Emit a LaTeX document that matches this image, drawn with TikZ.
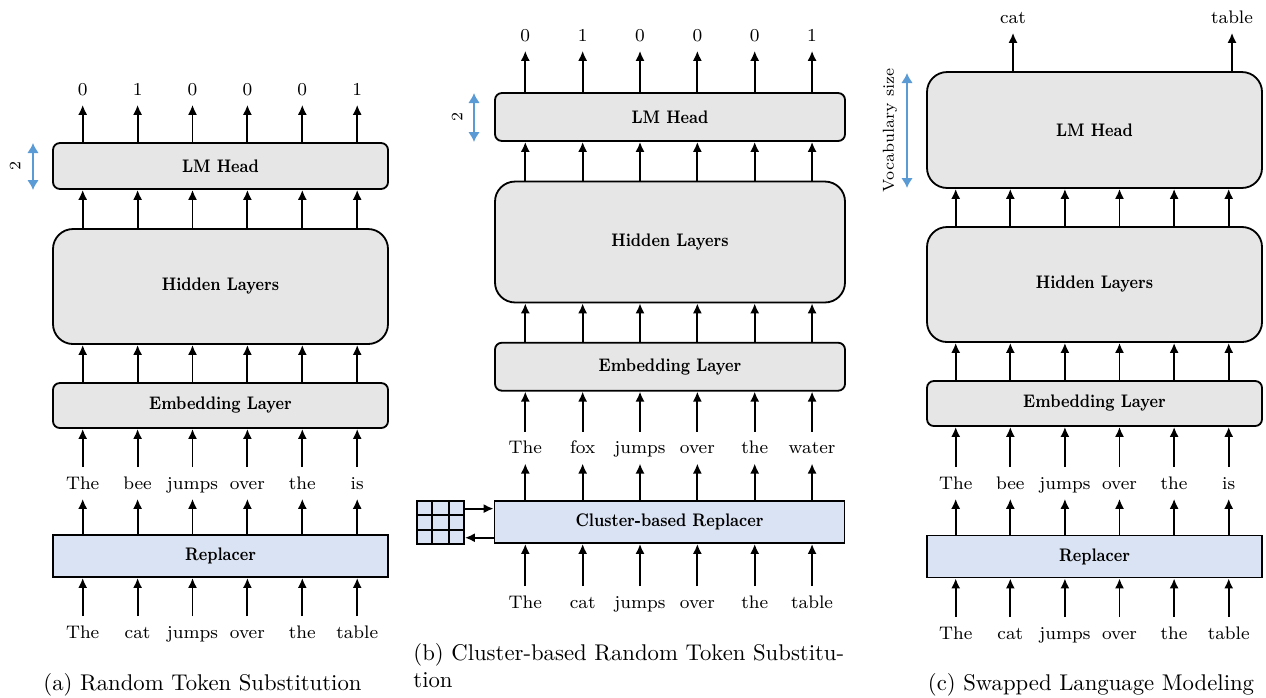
\documentclass[tikz,border=0pt]{standalone}
\usepackage{tikz}
\usepackage{graphicx}
\usetikzlibrary{arrows.meta}
\usetikzlibrary{calc}
\definecolor{boxgray}{RGB}{230,230,230}
\definecolor{boxblue}{RGB}{218,227,243}
\definecolor{dimblue}{RGB}{91,155,213}
\newcommand{\layertext}[1]{\scalebox{0.83}[1]{#1}}
\tikzset{
  layer/.style = {draw, fill = boxgray, line width = 0.8pt, rounded corners = 3pt, minimum width = 147.4pt, inner sep = 0, font = \footnotesize\bfseries},
  bigbox/.style = {layer, rounded corners = 8.8pt},
  replacer/.style = {layer, fill = boxblue, sharp corners},
  word/.style = {font = \footnotesize, text height = 1.5ex, text depth = 0.25ex, inner sep = 3pt},
  arr/.style = {-{Latex[length = 4.4pt, width = 4pt]}, line width = 0.8pt},
  dimarr/.style = {{Latex[length = 4.4pt, width = 5.2pt]}-{Latex[length = 4.4pt, width = 5.2pt]}, line width = 1.2pt, dimblue},
  dimlabel/.style = {font = \scriptsize, rotate = 90, inner sep = 0},
  caption/.style = {font = \normalsize, inner sep = 0}
}

\begin{document}
\begin{tikzpicture}[x = 0.44pt, y = -0.44pt]
    \useasboundingbox (0, 0) rectangle (1266, 697);

    % (a) random token substitution
    \node[layer, minimum height = 20.2pt] (a-head) at (220.5, 166) {\layertext{LM Head}};
    \node[bigbox, minimum height = 50.6pt] (a-hidden) at (220.5, 286.5) {\layertext{Hidden Layers}};
    \node[layer, minimum height = 19.8pt] (a-emb) at (220.5, 405.5) {\layertext{Embedding Layer}};
    \node[replacer, minimum height = 18.5pt] (a-rep) at (220.5, 556) {\layertext{Replacer}};
    \foreach \i/\wout/\wmid/\win in {1/0/The/The, 2/1/bee/cat, 3/0/jumps/jumps, 4/0/over/over, 5/0/the/the, 6/1/is/table} {
      \pgfmathsetmacro{\cx}{82.7 + 54.9 * (\i - 1)}
      \node[word] (a-out\i) at (\cx, 89) {\wout};
      \node[word] (a-mid\i) at (\cx, 483) {\wmid};
      \node[word] (a-in\i) at (\cx, 632) {\win};
      \draw[arr] (a-in\i) -- (a-rep.south -| a-in\i);
      \draw[arr] (a-rep.north -| a-in\i) -- (a-mid\i);
      \draw[arr] (a-mid\i) -- (a-emb.south -| a-mid\i);
      \draw[arr] (a-emb.north -| a-mid\i) -- (a-hidden.south -| a-mid\i);
      \draw[arr] (a-hidden.north -| a-mid\i) -- (a-head.south -| a-mid\i);
      \draw[arr] (a-head.north -| a-out\i) -- (a-out\i);
    }
    \coordinate (a-dimtop) at (33, 143);
    \coordinate (a-dimbot) at (33, 190);
    \draw[dimarr] (a-dimtop) -- (a-dimbot);
    \node[dimlabel] (a-dimtext) at (15, 166) {2};
    \node[caption] (a-cap) at (202.5, 685) {(a) Random Token Substitution};

    % (b) cluster-based random token substitution
    \node[layer, minimum width = 154pt, minimum height = 21.1pt] (b-head) at (670, 117) {\layertext{LM Head}};
    \node[bigbox, minimum width = 154pt, minimum height = 53.2pt] (b-hidden) at (670, 242) {\layertext{Hidden Layers}};
    \node[layer, minimum width = 154pt, minimum height = 21.1pt] (b-emb) at (670, 366.7) {\layertext{Embedding Layer}};
    \node[replacer, minimum width = 154pt, minimum height = 18.5pt] (b-rep) at (669.5, 522) {\layertext{Cluster-based Replacer}};
    \foreach \i/\wout/\wmid/\win in {1/0/The/The, 2/1/fox/cat, 3/0/jumps/jumps, 4/0/over/over, 5/0/the/the, 6/1/water/table} {
      \pgfmathsetmacro{\cx}{525.3 + 57.35 * (\i - 1)}
      \node[word] (b-out\i) at (\cx, 35) {\wout};
      \node[word] (b-mid\i) at (\cx, 447.7) {\wmid};
      \node[word] (b-in\i) at (\cx, 602) {\win};
      \draw[arr] (b-in\i) -- (b-rep.south -| b-in\i);
      \draw[arr] (b-rep.north -| b-in\i) -- (b-mid\i);
      \draw[arr] (b-mid\i) -- (b-emb.south -| b-mid\i);
      \draw[arr] (b-emb.north -| b-mid\i) -- (b-hidden.south -| b-mid\i);
      \draw[arr] (b-hidden.north -| b-mid\i) -- (b-head.south -| b-mid\i);
      \draw[arr] (b-head.north -| b-out\i) -- (b-out\i);
    }
    \node[draw, fill = boxblue, line width = 0.8pt, minimum width = 20.7pt, minimum height = 18.9pt, inner sep = 0] (b-table) at (440.5, 522.5) {};
    \foreach \k in {1, 2} {
      \draw[line width = 0.8pt] ($(b-table.north west)!\k/3!(b-table.north east)$) -- ($(b-table.south west)!\k/3!(b-table.south east)$);
      \draw[line width = 0.8pt] ($(b-table.north west)!\k/3!(b-table.south west)$) -- ($(b-table.north east)!\k/3!(b-table.south east)$);
    }
    \coordinate (b-up) at ($(b-table.north east)!0.19!(b-table.south east)$);
    \coordinate (b-down) at ($(b-table.north east)!0.84!(b-table.south east)$);
    \draw[arr] (b-up) -- (b-up -| b-rep.west);
    \draw[arr] (b-down -| b-rep.west) -- (b-down);
    \coordinate (b-dimtop) at (474, 93);
    \coordinate (b-dimbot) at (474, 142);
    \draw[dimarr] (b-dimtop) -- (b-dimbot);
    \node[dimlabel] (b-dimtext) at (457, 117) {2};
    \node[caption, align = left, anchor = north west] (b-cap) at (413, 643) {(b) Cluster-based Random Token Substitu-\\tion};

    % (c) swapped language modeling
    \node[bigbox, minimum height = 51pt] (c-head) at (1094.5, 130) {\layertext{LM Head}};
    \node[bigbox, minimum height = 50.6pt] (c-hidden) at (1094.5, 284.5) {\layertext{Hidden Layers}};
    \node[layer, minimum height = 19.8pt] (c-emb) at (1094.5, 403.5) {\layertext{Embedding Layer}};
    \node[replacer, minimum height = 18.5pt] (c-rep) at (1094.5, 556.5) {\layertext{Replacer}};
    \foreach \i/\wmid/\win in {1/The/The, 2/bee/cat, 3/jumps/jumps, 4/over/over, 5/the/the, 6/is/table} {
      \pgfmathsetmacro{\cx}{955.7 + 54.6 * (\i - 1)}
      \node[word] (c-mid\i) at (\cx, 483) {\wmid};
      \node[word] (c-in\i) at (\cx, 633) {\win};
      \draw[arr] (c-in\i) -- (c-rep.south -| c-in\i);
      \draw[arr] (c-rep.north -| c-in\i) -- (c-mid\i);
      \draw[arr] (c-mid\i) -- (c-emb.south -| c-mid\i);
      \draw[arr] (c-emb.north -| c-mid\i) -- (c-hidden.south -| c-mid\i);
      \draw[arr] (c-hidden.north -| c-mid\i) -- (c-head.south -| c-mid\i);
    }
    \node[word] (c-cat) at (1013, 17) {cat};
    \node[word] (c-table) at (1232, 17) {table};
    \draw[arr] (c-head.north -| c-cat) -- (c-cat);
    \draw[arr] (c-head.north -| c-table) -- (c-table);
    \coordinate (c-dimtop) at (907, 73);
    \coordinate (c-dimbot) at (907, 188);
    \draw[dimarr] (c-dimtop) -- (c-dimbot);
    \node[dimlabel] (c-dimtext) at (890, 130) {Vocabulary size};
    \node[caption] (c-cap) at (1091, 685) {(c) Swapped Language Modeling};
  \end{tikzpicture}
\end{document}
